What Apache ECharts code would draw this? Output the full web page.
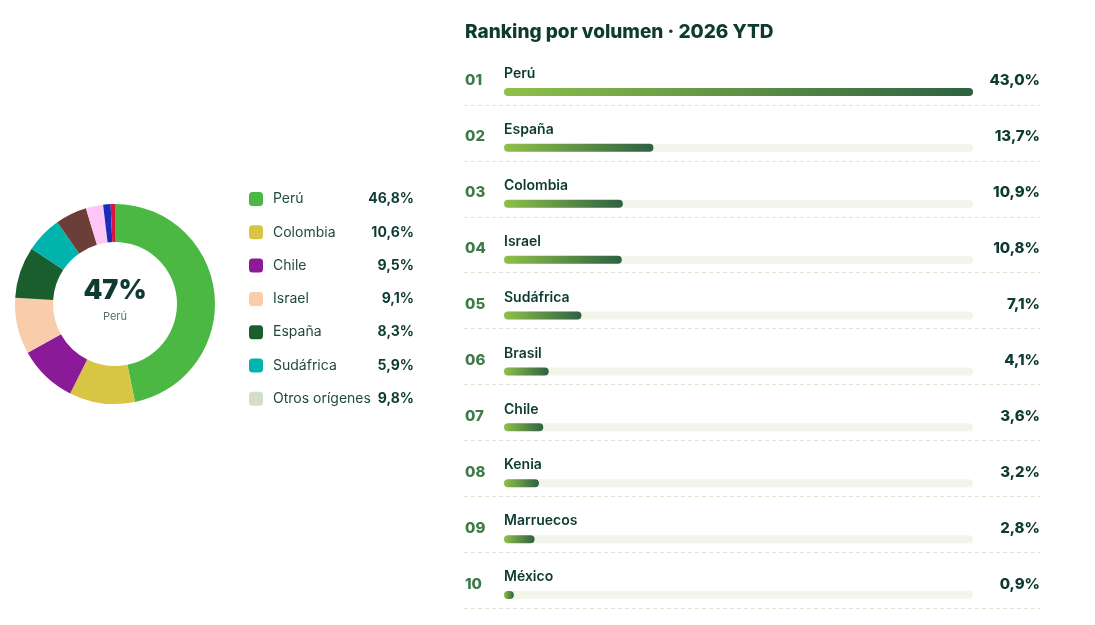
<!DOCTYPE html>
<html>
<head>
<meta charset="utf-8">
<title>Orígenes · Ranking por volumen</title>
<script src="https://cdn.jsdelivr.net/npm/echarts@6/dist/echarts.min.js"></script>
<style>
    html, body { margin: 0; padding: 0; background: #ffffff; }
    #chart { width: 1095px; height: 625px; }
</style>
</head>
<body>
<div id="chart"></div>
<script>
// cuota por origen (donut + leyenda)
var originNames = ['Perú', 'Colombia', 'Chile', 'Israel', 'España', 'Sudáfrica', 'Otros orígenes'];
var originShares = [46.8, 10.6, 9.5, 9.1, 8.3, 5.9, 9.8];
var originColors = ['#4ab843', '#d8c543', '#8b1a99', '#f9cdac', '#1b5e2d', '#00b3ad', '#d3e0c7'];

// "Otros orígenes" aparece repartido en el donut
var otherNames = ['Otro 1', 'Otro 2', 'Otro 3', 'Otro 4'];
var otherShares = [5.1, 2.8, 1.2, 0.7];
var otherColors = ['#6b3f38', '#fec6f4', '#1a2cb8', '#dc143c'];

// ranking por volumen 2026 YTD
var rankNames = ['Perú', 'España', 'Colombia', 'Israel', 'Sudáfrica', 'Brasil', 'Chile', 'Kenia', 'Marruecos', 'México'];
var rankValues = [43.0, 13.7, 10.9, 10.8, 7.1, 4.1, 3.6, 3.2, 2.8, 0.9];

var FONT = 'Inter, "Noto Sans", sans-serif';
var DARK = '#0d3b31';

function pct(v) {
    return v.toFixed(1).replace('.', ',') + '%';
}

function pad(n) {
    return n < 10 ? '0' + n : '' + n;
}

var pieData = [];
for (var i = 0; i < originNames.length - 1; i++) {
    pieData.push({ name: originNames[i], value: originShares[i], itemStyle: { color: originColors[i] } });
}
for (var j = 0; j < otherNames.length; j++) {
    pieData.push({ name: otherNames[j], value: otherShares[j], itemStyle: { color: otherColors[j] } });
}
// solo para la leyenda
pieData.push({ name: 'Otros orígenes', value: 0, itemStyle: { color: originColors[6] } });

var barGradient = new echarts.graphic.LinearGradient(0, 0, 1, 0, [
    { offset: 0, color: '#8fc04a' },
    { offset: 1, color: '#2e6142' }
]);

var myChart = echarts.init(document.getElementById('chart'));

myChart.setOption({
    animation: false,
    textStyle: { fontFamily: FONT },
    title: {
        text: 'Ranking por volumen · 2026 YTD',
        left: 460,
        top: 18,
        textStyle: { fontFamily: FONT, fontSize: 19, fontWeight: 800, color: DARK }
    },
    graphic: [
        {
            type: 'text',
            x: 115,
            y: 291,
            style: {
                text: '47%',
                fontFamily: FONT,
                fontSize: 27,
                fontWeight: 900,
                fill: DARK,
                textAlign: 'center',
                textVerticalAlign: 'middle'
            }
        },
        {
            type: 'text',
            x: 115,
            y: 317,
            style: {
                text: 'Perú',
                fontFamily: FONT,
                fontSize: 11,
                fill: '#5a6e64',
                textAlign: 'center',
                textVerticalAlign: 'middle'
            }
        }
    ],
    legend: {
        orient: 'vertical',
        left: 249,
        top: 189,
        padding: 0,
        itemWidth: 14,
        itemHeight: 14,
        itemGap: 13.3,
        icon: 'roundRect',
        selectedMode: false,
        data: originNames,
        formatter: function (name) {
            var k = originNames.indexOf(name);
            return '{n|' + name + '}{v|' + pct(originShares[k]) + '}';
        },
        textStyle: {
            rich: {
                n: { fontFamily: FONT, fontSize: 14, color: '#1f4a3c', width: 92, padding: [0, 0, 0, 5], height: 20, lineHeight: 20 },
                v: { fontFamily: FONT, fontSize: 14, fontWeight: 700, color: DARK, width: 49, align: 'right', height: 20, lineHeight: 20 }
            }
        }
    },
    grid: [
        { left: 504, right: 122, top: 64, height: 559 },
        { left: 464, right: 55, top: 105, height: 503 }
    ],
    xAxis: [
        { type: 'value', gridIndex: 0, min: 0, max: 43, show: false },
        { type: 'value', gridIndex: 1, min: 0, max: 1, show: false }
    ],
    yAxis: [
        {
            type: 'category',
            gridIndex: 0,
            inverse: true,
            data: rankNames,
            axisLine: { show: false },
            axisTick: { show: false },
            axisLabel: {
                align: 'left',
                verticalAlign: 'bottom',
                lineHeight: 22,
                margin: 39,
                fontFamily: FONT,
                fontSize: 15,
                fontWeight: 800,
                color: '#3e7b48',
                formatter: function (v, idx) { return pad(idx + 1); }
            }
        },
        {
            type: 'category',
            gridIndex: 0,
            position: 'right',
            inverse: true,
            data: rankNames,
            axisLine: { show: false },
            axisTick: { show: false },
            axisLabel: {
                align: 'right',
                verticalAlign: 'bottom',
                lineHeight: 22,
                margin: 67,
                fontFamily: FONT,
                fontSize: 15,
                fontWeight: 800,
                color: DARK,
                formatter: function (v, idx) { return pct(rankValues[idx]); }
            }
        },
        {
            type: 'value',
            gridIndex: 1,
            min: 0,
            max: 9,
            interval: 1,
            axisLine: { show: false },
            axisTick: { show: false },
            axisLabel: { show: false },
            splitLine: { show: true, lineStyle: { color: '#dfe4cf', type: [4, 3], width: 1 } }
        }
    ],
    series: [
        {
            type: 'pie',
            center: [115, 304],
            radius: [62, 100],
            startAngle: 90,
            clockwise: true,
            label: { show: false },
            labelLine: { show: false },
            emphasis: { disabled: true },
            silent: true,
            data: pieData
        },
        {
            type: 'bar',
            xAxisIndex: 0,
            yAxisIndex: 0,
            barWidth: 8,
            data: rankValues,
            showBackground: true,
            backgroundStyle: { color: '#f2f5e9', borderRadius: 4 },
            itemStyle: { color: barGradient, borderRadius: 4 },
            label: {
                show: true,
                position: [0, -21],
                formatter: '{b}',
                fontFamily: FONT,
                fontSize: 14,
                fontWeight: 600,
                color: DARK
            },
            silent: true
        }
    ]
});
</script>
</body>
</html>
